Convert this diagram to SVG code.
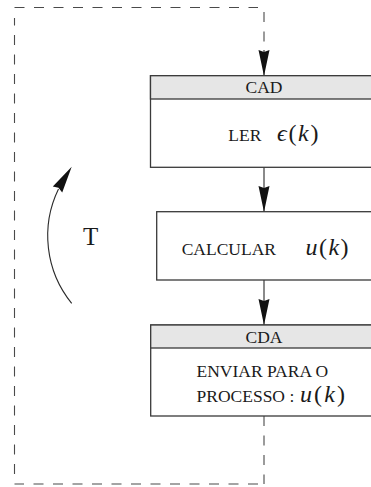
<svg xmlns="http://www.w3.org/2000/svg" width="371" height="487" viewBox="0 0 371 487">
  <style>
    .box { fill: #ffffff; stroke: #3a3a3a; stroke-width: 1.3; }
    .head { fill: #e6e6e6; stroke: #3a3a3a; stroke-width: 1.3; }
    .lbl { font-family: "Liberation Serif", "Times New Roman", serif; font-size: 17.5px; fill: #1a1a1a; }
    .math { font-family: "Liberation Serif", "DejaVu Serif", serif; font-size: 24px; fill: #1a1a1a; }
    .math .it { font-style: italic; }
    .flow { fill: none; stroke: #2a2a2a; stroke-width: 1.1; }
    .loop { fill: none; stroke: #4a4a4a; stroke-width: 1.1; stroke-dasharray: 10 9.5; }
    .tip { fill: #111111; stroke: none; }
  </style>
  <defs>
    <marker id="head" markerUnits="userSpaceOnUse" markerWidth="28" markerHeight="12" viewBox="0 -6 28 12" refX="26" refY="0" orient="auto">
      <path class="tip" d="M0,-5.5 L26,0 L0,5.5 L2,0 Z"/>
    </marker>
  </defs>

  <!-- sampling loop and flow arrows -->
  <g id="connectors">
    <path class="loop" d="M264,416 V484"/>
    <path class="loop" d="M258,484 H14.5"/>
    <path class="loop" d="M14.5,474 V18"/>
    <path class="loop" d="M14.5,7.5 H258"/>
    <path class="loop" d="M264,12 V50"/>
    <path class="flow" d="M264,50 V76" stroke="none" marker-end="url(#head)"/>
    <path class="flow" d="M264,167 V212" marker-end="url(#head)"/>
    <path class="flow" d="M264,280 V325" marker-end="url(#head)"/>
    <!-- period arrow -->
    <path class="flow" d="M71.7,303.3 A107,107 0 0 1 58.5,189"/>
    <polygon class="tip" points="71.7,166.7 52.8,186.6 58.5,187.8 62.2,192.4"/>
  </g>

  <g id="period-label">
    <text class="lbl" x="83" y="245" style="font-size:25px">T</text>
  </g>

  <g id="cad">
    <rect class="box" x="150.5" y="75.7" width="225" height="91.6"/>
    <rect class="head" x="150.5" y="75.7" width="225" height="23.3"/>
    <text class="lbl" x="264" y="93" text-anchor="middle">CAD</text>
    <text class="lbl" x="228.3" y="141.3">LER</text>
    <text class="math" x="277" y="141.3" textLength="41.5" lengthAdjust="spacing"><tspan class="it">ϵ</tspan>(<tspan class="it">k</tspan>)</text>
  </g>

  <g id="calcular">
    <rect class="box" x="156.7" y="211.7" width="220" height="68.3"/>
    <text class="lbl" x="181.7" y="254.5">CALCULAR</text>
    <text class="math" x="305.5" y="254.5" textLength="43" lengthAdjust="spacing"><tspan class="it">u</tspan>(<tspan class="it">k</tspan>)</text>
  </g>

  <g id="cda">
    <rect class="box" x="150.7" y="325" width="225" height="91"/>
    <rect class="head" x="150.7" y="325" width="225" height="23"/>
    <text class="lbl" x="264" y="343" text-anchor="middle">CDA</text>
    <text class="lbl" x="196.5" y="376.7">ENVIAR PARA O</text>
    <text class="lbl" x="196.5" y="401.7">PROCESSO :</text>
    <text class="math" x="300" y="401.7" textLength="45" lengthAdjust="spacing"><tspan class="it">u</tspan>(<tspan class="it">k</tspan>)</text>
  </g>
</svg>
